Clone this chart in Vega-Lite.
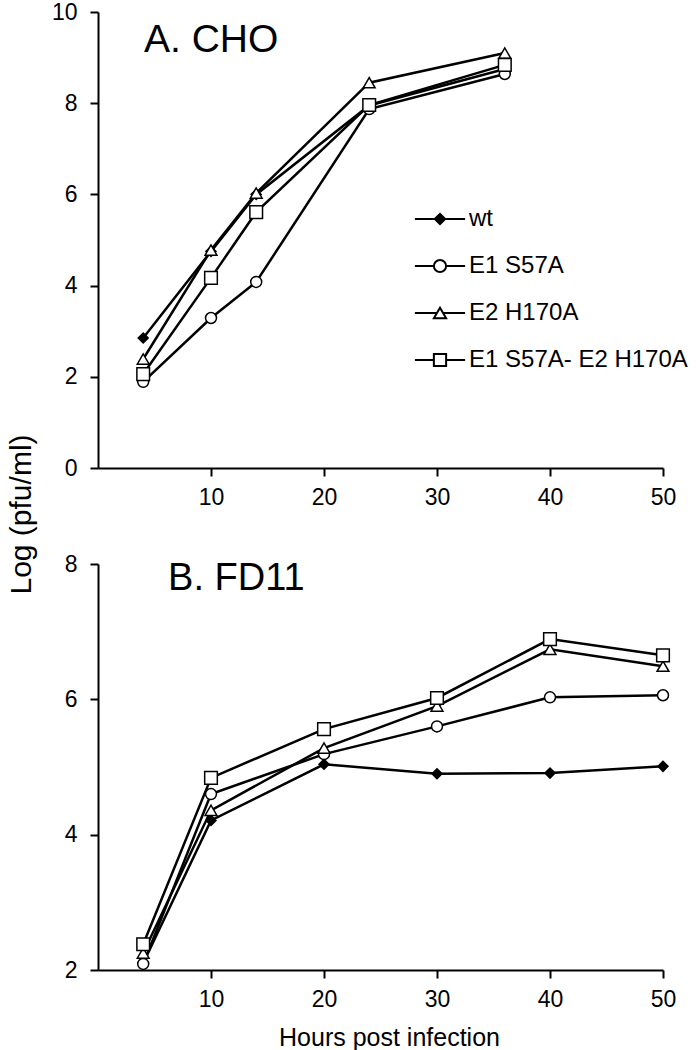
{
  "$schema": "https://vega.github.io/schema/vega-lite/v6.json",
  "padding": {"left": 6, "top": 1, "right": 0, "bottom": 0},
  "background": "white",
  "bounds": "flush",
  "spacing": 96,
  "config": {
    "font": "Liberation Sans",
    "view": {"stroke": null},
    "axis": {
      "domainColor": "black",
      "domainWidth": 2,
      "tickColor": "black",
      "tickWidth": 2,
      "tickSize": 8,
      "labelFontSize": 23,
      "labelColor": "black",
      "labelFont": "Liberation Sans",
      "labelFlush": false,
      "labelOverlap": false,
      "format": "d",
      "grid": false,
      "titleFont": "Liberation Sans",
      "titleFontWeight": "normal",
      "titleColor": "black"
    },
    "legend": {
      "labelFont": "Liberation Sans",
      "labelFontSize": 24,
      "labelColor": "black",
      "labelLimit": 0,
      "padding": 0
    }
  },
  "datasets": {
    "cho": [
      {"series": "wt", "h": 4, "v": 2.85},
      {"series": "wt", "h": 10, "v": 4.75},
      {"series": "wt", "h": 14, "v": 6.0},
      {"series": "wt", "h": 24, "v": 7.95},
      {"series": "wt", "h": 36, "v": 8.75},
      {"series": "E1 S57A", "h": 4, "v": 1.89},
      {"series": "E1 S57A", "h": 10, "v": 3.29},
      {"series": "E1 S57A", "h": 14, "v": 4.08},
      {"series": "E1 S57A", "h": 24, "v": 7.87},
      {"series": "E1 S57A", "h": 36, "v": 8.64},
      {"series": "E2 H170A", "h": 4, "v": 2.39},
      {"series": "E2 H170A", "h": 10, "v": 4.78},
      {"series": "E2 H170A", "h": 14, "v": 6.03},
      {"series": "E2 H170A", "h": 24, "v": 8.45},
      {"series": "E2 H170A", "h": 36, "v": 9.1},
      {"series": "E1 S57A- E2 H170A", "h": 4, "v": 2.06},
      {"series": "E1 S57A- E2 H170A", "h": 10, "v": 4.17},
      {"series": "E1 S57A- E2 H170A", "h": 14, "v": 5.61},
      {"series": "E1 S57A- E2 H170A", "h": 24, "v": 7.96},
      {"series": "E1 S57A- E2 H170A", "h": 36, "v": 8.84}
    ],
    "fd11": [
      {"series": "wt", "h": 4, "v": 2.1},
      {"series": "wt", "h": 10, "v": 4.21},
      {"series": "wt", "h": 20, "v": 5.04},
      {"series": "wt", "h": 30, "v": 4.9},
      {"series": "wt", "h": 40, "v": 4.91},
      {"series": "wt", "h": 50, "v": 5.01},
      {"series": "E1 S57A", "h": 4, "v": 2.09},
      {"series": "E1 S57A", "h": 10, "v": 4.6},
      {"series": "E1 S57A", "h": 20, "v": 5.19},
      {"series": "E1 S57A", "h": 30, "v": 5.6},
      {"series": "E1 S57A", "h": 40, "v": 6.03},
      {"series": "E1 S57A", "h": 50, "v": 6.06},
      {"series": "E2 H170A", "h": 4, "v": 2.25},
      {"series": "E2 H170A", "h": 10, "v": 4.36},
      {"series": "E2 H170A", "h": 20, "v": 5.28},
      {"series": "E2 H170A", "h": 30, "v": 5.9},
      {"series": "E2 H170A", "h": 40, "v": 6.74},
      {"series": "E2 H170A", "h": 50, "v": 6.49},
      {"series": "E1 S57A- E2 H170A", "h": 4, "v": 2.38},
      {"series": "E1 S57A- E2 H170A", "h": 10, "v": 4.84},
      {"series": "E1 S57A- E2 H170A", "h": 20, "v": 5.56},
      {"series": "E1 S57A- E2 H170A", "h": 30, "v": 6.02},
      {"series": "E1 S57A- E2 H170A", "h": 40, "v": 6.89},
      {"series": "E1 S57A- E2 H170A", "h": 50, "v": 6.65}
    ]
  },
  "vconcat": [
    {
      "width": 565,
      "height": 456,
      "resolve": {"scale": {"shape": "independent", "fill": "independent", "stroke": "independent"}},
      "layer": [
        {
          "data": {"name": "cho"},
          "mark": {"type": "line", "strokeWidth": 2.5, "color": "black"},
          "encoding": {
            "x": {"field": "h", "type": "quantitative", "scale": {"domain": [0, 50]},
                  "axis": {"values": [10, 20, 30, 40, 50], "title": null, "labelPadding": 10}},
            "y": {"field": "v", "type": "quantitative", "scale": {"domain": [0, 10]},
                  "axis": {"values": [0, 2, 4, 6, 8, 10], "labelPadding": 13,
                           "title": "Log (pfu/ml)", "titleFontSize": 30,
                           "titleX": -77, "titleY": 502, "titleAngle": -90,
                           "titleAlign": "center", "titleBaseline": "middle"}},
            "detail": {"field": "series"}
          }
        },
        {
          "data": {"name": "cho"},
          "mark": {"type": "point", "filled": true, "stroke": "black", "strokeWidth": 1.5, "opacity": 1},
          "encoding": {
            "x": {"field": "h", "type": "quantitative"},
            "y": {"field": "v", "type": "quantitative"},
            "shape": {"field": "series", "scale": {"domain": ["wt", "E1 S57A", "E2 H170A", "E1 S57A- E2 H170A"], "range": ["diamond", "circle", "triangle-up", "square"]}, "legend": null},
            "fill": {"field": "series", "scale": {"domain": ["wt", "E1 S57A", "E2 H170A", "E1 S57A- E2 H170A"], "range": ["black", "white", "white", "white"]}, "legend": null},
            "size": {"field": "series", "scale": {"domain": ["wt", "E1 S57A", "E2 H170A", "E1 S57A- E2 H170A"], "range": [100, 160, 170, 150]}, "legend": null}
          }
        },
        {
          "data": {"name": "cho"},
          "transform": [{"filter": "false"}],
          "mark": {"type": "point", "filled": true, "strokeWidth": 2, "opacity": 1},
          "encoding": {
            "x": {"field": "h", "type": "quantitative"},
            "y": {"field": "v", "type": "quantitative"},
            "stroke": {
              "field": "series",
              "scale": {"domain": ["wt", "E1 S57A", "E2 H170A", "E1 S57A- E2 H170A"], "range": ["black", "black", "black", "black"]},
              "legend": {
                "title": null,
                "orient": "none",
                "legendX": 330,
                "legendY": 195,
                "direction": "vertical",
                "symbolSize": 150,
                "symbolStrokeWidth": 2,
                "labelOffset": 17,
                "rowPadding": 23
              }
            },
            "fill": {
              "field": "series",
              "scale": {"domain": ["wt", "E1 S57A", "E2 H170A", "E1 S57A- E2 H170A"], "range": ["black", "white", "white", "white"]},
              "legend": {
                "title": null,
                "orient": "none",
                "legendX": 330,
                "legendY": 195,
                "direction": "vertical",
                "symbolSize": 150,
                "symbolStrokeWidth": 2,
                "labelOffset": 17,
                "rowPadding": 23
              }
            },
            "shape": {
              "field": "series",
              "scale": {
                "domain": ["wt", "E1 S57A", "E2 H170A", "E1 S57A- E2 H170A"],
                "range": [
                  "M-4.1,0H4.1M-0.85,0L0,-0.85L0.85,0L0,0.85Z",
                  "M-4.1,0H-1M1,0H4.1M-1,0A1,1,0,1,0,1,0A1,1,0,1,0,-1,0Z",
                  "M-4.1,0H-0.5M0.5,0H4.1M0,-0.866L-1,0.866H1Z",
                  "M-4.1,0H-1M1,0H4.1M-1,-1H1V1H-1Z"
                ]
              },
              "legend": {
                "title": null,
                "orient": "none",
                "legendX": 330,
                "legendY": 195,
                "direction": "vertical",
                "symbolSize": 150,
                "symbolStrokeWidth": 2,
                "labelOffset": 17,
                "rowPadding": 23
              }
            }
          }
        },
        {
          "data": {"values": [{"label": "A. CHO"}]},
          "mark": {"type": "text", "align": "left", "baseline": "alphabetic", "fontSize": 39, "font": "Liberation Sans", "color": "black"},
          "encoding": {
            "x": {"datum": 4.07, "type": "quantitative"},
            "y": {"datum": 9.12, "type": "quantitative"},
            "text": {"field": "label"}
          }
        }
      ]
    },
    {
      "width": 565,
      "height": 406,
      "layer": [
        {
          "data": {"name": "fd11"},
          "mark": {"type": "line", "strokeWidth": 2.5, "color": "black"},
          "encoding": {
            "x": {"field": "h", "type": "quantitative", "scale": {"domain": [0, 50]},
                  "axis": {"values": [10, 20, 30, 40, 50], "title": "Hours post infection", "titleFontSize": 25, "titleX": 291, "labelPadding": 10, "titlePadding": 14}},
            "y": {"field": "v", "type": "quantitative", "scale": {"domain": [2, 8]},
                  "axis": {"values": [2, 4, 6, 8], "labelPadding": 13, "title": null}},
            "detail": {"field": "series"}
          }
        },
        {
          "data": {"name": "fd11"},
          "mark": {"type": "point", "filled": true, "stroke": "black", "strokeWidth": 1.5, "opacity": 1},
          "encoding": {
            "x": {"field": "h", "type": "quantitative"},
            "y": {"field": "v", "type": "quantitative"},
            "shape": {"field": "series", "scale": {"domain": ["wt", "E1 S57A", "E2 H170A", "E1 S57A- E2 H170A"], "range": ["diamond", "circle", "triangle-up", "square"]}, "legend": null},
            "fill": {"field": "series", "scale": {"domain": ["wt", "E1 S57A", "E2 H170A", "E1 S57A- E2 H170A"], "range": ["black", "white", "white", "white"]}, "legend": null},
            "size": {"field": "series", "scale": {"domain": ["wt", "E1 S57A", "E2 H170A", "E1 S57A- E2 H170A"], "range": [100, 160, 170, 150]}, "legend": null}
          }
        },
        {
          "data": {"values": [{"label": "B. FD11"}]},
          "mark": {"type": "text", "align": "left", "baseline": "alphabetic", "fontSize": 38, "font": "Liberation Sans", "color": "black"},
          "encoding": {
            "x": {"datum": 6.2, "type": "quantitative"},
            "y": {"datum": 7.62, "type": "quantitative"},
            "text": {"field": "label"}
          }
        }
      ]
    }
  ]
}
